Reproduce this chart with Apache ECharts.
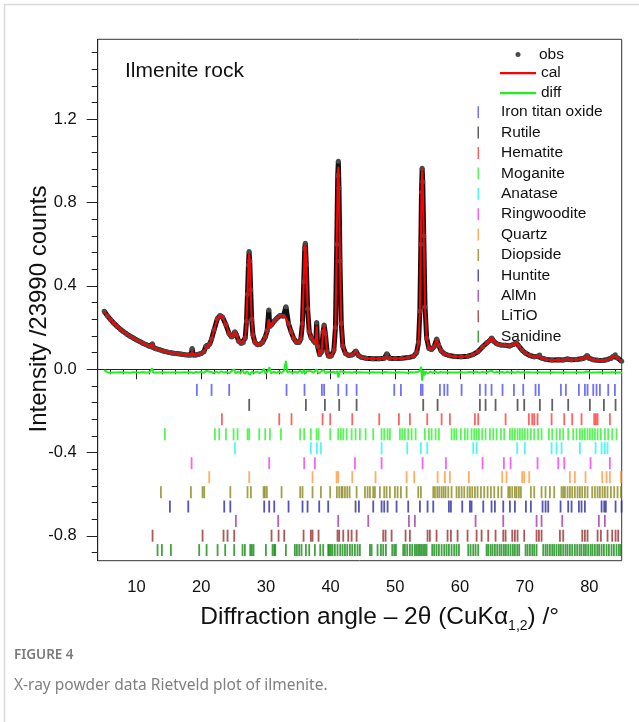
<!DOCTYPE html>
<html><head><meta charset="utf-8">
<script src="https://cdn.jsdelivr.net/npm/echarts@6/dist/echarts.min.js"></script>
<style>html,body{margin:0;padding:0;background:#fff}#c{width:639px;height:722px}</style>
</head><body><div id="c"></div>
<script>
// ---------- data ----------
const angles = [5.0,5.5,6.0,6.5,7.0,7.5,8.0,8.5,9.0,9.5,
10.0,10.5,11.0,11.5,12.0,12.3,12.45,12.6,13.0,13.5,
14.0,14.5,15.0,15.5,16.0,16.5,17.0,17.5,18.0,18.45,
18.6,18.75,19.2,19.6,20.0,20.4,20.75,21.0,21.3,21.6,
22.0,22.5,22.9,23.3,23.8,24.3,24.7,25.0,25.2,25.45,
25.8,26.2,26.5,26.8,27.0,27.15,27.3,27.4,27.5,27.65,
27.8,28.0,28.3,28.7,29.1,29.5,29.9,30.2,30.45,30.6,
30.9,31.3,31.7,32.2,32.7,33.1,33.5,33.9,34.3,34.7,
35.1,35.4,35.65,35.85,36.0,36.1,36.25,36.45,36.7,37.0,
37.4,37.7,37.85,38.0,38.3,38.6,38.85,39.0,39.2,39.45,
39.7,40.1,40.5,40.75,40.95,41.1,41.2,41.3,41.45,41.65,
41.9,42.3,42.8,43.4,43.9,44.3,44.8,45.5,46.5,47.5,
48.3,48.7,49.1,50.0,51.0,52.0,52.8,53.3,53.6,53.8,
53.95,54.05,54.15,54.25,54.4,54.6,54.85,55.2,55.6,56.0,
56.4,56.7,57.1,57.6,58.3,59.2,60.2,61.2,62.0,62.8,
63.5,64.2,64.6,64.9,65.2,65.7,66.3,67.0,67.7,68.3,
68.7,69.1,69.6,70.1,70.8,71.5,72.0,72.3,72.7,73.3,
74.2,75.2,76.0,76.6,77.2,78.0,78.8,79.3,79.65,80.0,
80.6,81.3,82.0,82.7,83.3,83.7,84.0,84.4,85.0];

const calValues = [0.278,0.257,0.238,0.221,0.206,0.192,0.180,0.169,0.159,0.150,
0.141,0.133,0.125,0.118,0.111,0.107,0.118,0.104,0.099,0.094,
0.089,0.085,0.081,0.078,0.076,0.074,0.072,0.070,0.069,0.068,
0.088,0.069,0.069,0.072,0.076,0.084,0.100,0.108,0.120,0.145,
0.190,0.243,0.258,0.250,0.215,0.172,0.155,0.165,0.180,0.165,
0.135,0.124,0.128,0.150,0.230,0.360,0.500,0.555,0.520,0.380,
0.240,0.165,0.130,0.118,0.120,0.130,0.155,0.185,0.240,0.205,
0.215,0.232,0.245,0.258,0.255,0.245,0.218,0.180,0.148,0.130,
0.128,0.145,0.220,0.420,0.580,0.598,0.500,0.290,0.180,0.152,
0.135,0.125,0.210,0.110,0.070,0.085,0.180,0.212,0.170,0.085,
0.062,0.064,0.090,0.200,0.600,0.930,0.972,0.870,0.520,0.220,
0.110,0.076,0.066,0.070,0.088,0.066,0.057,0.053,0.051,0.051,
0.053,0.060,0.053,0.052,0.053,0.056,0.062,0.080,0.130,0.280,
0.600,0.850,0.962,0.900,0.640,0.300,0.150,0.100,0.095,0.108,
0.145,0.115,0.088,0.074,0.066,0.061,0.060,0.063,0.070,0.085,
0.108,0.128,0.138,0.150,0.135,0.122,0.117,0.115,0.112,0.120,
0.127,0.112,0.092,0.078,0.066,0.060,0.062,0.068,0.053,0.047,
0.045,0.046,0.045,0.049,0.046,0.047,0.050,0.055,0.066,0.052,
0.046,0.043,0.042,0.046,0.052,0.062,0.070,0.054,0.038];

const obsValues = [0.278,0.257,0.238,0.221,0.206,0.192,0.180,0.169,0.159,0.150,
0.141,0.133,0.125,0.118,0.111,0.107,0.122,0.104,0.099,0.094,
0.089,0.085,0.081,0.078,0.076,0.074,0.072,0.070,0.069,0.068,
0.100,0.069,0.069,0.072,0.076,0.084,0.112,0.108,0.120,0.145,
0.190,0.243,0.258,0.250,0.215,0.172,0.155,0.165,0.180,0.165,
0.135,0.124,0.128,0.150,0.230,0.360,0.500,0.565,0.520,0.380,
0.240,0.165,0.130,0.118,0.120,0.130,0.155,0.185,0.285,0.205,
0.215,0.232,0.245,0.258,0.255,0.300,0.218,0.180,0.148,0.130,
0.128,0.145,0.220,0.420,0.580,0.605,0.500,0.290,0.180,0.152,
0.135,0.125,0.225,0.110,0.070,0.085,0.180,0.212,0.170,0.085,
0.062,0.064,0.090,0.200,0.600,0.930,0.998,0.870,0.520,0.220,
0.110,0.076,0.066,0.070,0.088,0.066,0.057,0.053,0.051,0.051,
0.053,0.075,0.053,0.052,0.053,0.056,0.062,0.080,0.130,0.280,
0.600,0.850,0.965,0.900,0.640,0.300,0.150,0.100,0.095,0.108,
0.145,0.115,0.088,0.074,0.066,0.061,0.060,0.063,0.070,0.085,
0.108,0.128,0.138,0.150,0.135,0.122,0.117,0.115,0.112,0.120,
0.127,0.112,0.092,0.078,0.066,0.060,0.062,0.068,0.053,0.047,
0.045,0.046,0.045,0.049,0.046,0.047,0.050,0.055,0.066,0.052,
0.046,0.043,0.042,0.046,0.052,0.062,0.070,0.054,0.038];

const diffData = [[5.0,-0.004],[5.3,-0.012],[5.6,-0.016],[6.0,-0.017],[6.5,-0.015],[7.0,-0.016],[7.5,-0.014],[8.0,-0.016],[8.5,-0.015],[9.0,-0.017],[9.5,-0.014],[10.0,-0.016],[10.5,-0.015],[11.0,-0.014],[11.5,-0.016],[12.0,-0.015],[12.3,-0.012],[12.45,0.004],[12.6,-0.017],[13.0,-0.015],[13.5,-0.016],[14.0,-0.014],[14.5,-0.016],[15.0,-0.015],[15.5,-0.016],[16.0,-0.014],[16.5,-0.016],[17.0,-0.015],[17.5,-0.014],[18.0,-0.016],[18.4,-0.014],[18.6,-0.006],[18.8,-0.018],[19.2,-0.013],[19.6,-0.016],[20.0,-0.012],[20.4,-0.017],[20.8,-0.008],[21.1,-0.016],[21.5,-0.013],[21.9,-0.018],[22.3,-0.011],[22.7,-0.017],[23.1,-0.010],[23.5,-0.016],[23.9,-0.013],[24.3,-0.019],[24.7,-0.009],[25.1,0.000],[25.3,-0.020],[25.7,-0.012],[26.1,-0.018],[26.4,-0.004],[26.7,-0.021],[27.1,-0.010],[27.35,-0.002],[27.5,-0.026],[27.8,-0.012],[28.2,-0.017],[28.6,-0.011],[29.0,-0.018],[29.4,-0.012],[29.7,0.002],[29.9,-0.020],[30.3,-0.010],[30.55,0.010],[30.8,-0.020],[31.2,-0.012],[31.6,-0.018],[32.0,-0.010],[32.4,-0.017],[32.8,-0.008],[33.1,0.040],[33.3,-0.015],[33.7,-0.010],[34.1,-0.018],[34.5,-0.011],[34.9,-0.017],[35.3,-0.006],[35.6,-0.019],[35.9,-0.004],[36.1,-0.022],[36.3,-0.009],[36.6,-0.018],[37.0,-0.010],[37.4,-0.016],[37.85,0.000],[38.1,-0.020],[38.5,-0.012],[38.9,-0.004],[39.2,-0.019],[39.6,-0.012],[40.0,-0.016],[40.4,-0.012],[40.8,-0.018],[41.0,-0.008],[41.2,-0.040],[41.4,-0.010],[41.7,-0.018],[42.1,-0.013],[42.5,-0.016],[42.9,-0.014],[43.3,-0.017],[43.7,-0.013],[44.1,-0.016],[44.5,-0.014],[45.0,-0.016],[45.5,-0.015],[46.0,-0.017],[46.5,-0.014],[47.0,-0.016],[47.5,-0.015],[48.0,-0.016],[48.5,-0.013],[48.7,-0.004],[48.9,-0.016],[49.4,-0.015],[49.9,-0.017],[50.4,-0.014],[50.9,-0.016],[51.4,-0.015],[51.9,-0.017],[52.4,-0.014],[52.9,-0.016],[53.4,-0.013],[53.8,-0.008],[54.0,0.012],[54.15,-0.055],[54.3,-0.005],[54.5,-0.030],[54.7,-0.010],[55.0,-0.020],[55.4,-0.012],[55.8,-0.017],[56.2,-0.010],[56.6,-0.018],[57.0,-0.013],[57.5,-0.016],[58.0,-0.014],[58.5,-0.016],[59.0,-0.015],[59.5,-0.016],[60.0,-0.014],[60.5,-0.016],[61.0,-0.015],[61.5,-0.013],[62.0,-0.016],[62.5,-0.012],[63.0,-0.017],[63.5,-0.013],[64.0,-0.016],[64.5,-0.011],[64.9,-0.008],[65.3,-0.017],[65.7,-0.012],[66.1,-0.016],[66.5,-0.013],[66.9,-0.017],[67.3,-0.012],[67.7,-0.016],[68.1,-0.013],[68.5,-0.017],[68.9,-0.011],[69.3,-0.016],[69.7,-0.014],[70.1,-0.016],[70.6,-0.014],[71.1,-0.016],[71.6,-0.015],[72.1,-0.013],[72.6,-0.016],[73.1,-0.015],[73.6,-0.016],[74.1,-0.014],[74.6,-0.016],[75.1,-0.015],[75.6,-0.016],[76.1,-0.014],[76.6,-0.016],[77.1,-0.015],[77.6,-0.016],[78.1,-0.014],[78.6,-0.015],[79.1,-0.016],[79.6,-0.011],[80.1,-0.017],[80.6,-0.015],[81.1,-0.016],[81.6,-0.014],[82.1,-0.016],[82.6,-0.015],[83.1,-0.016],[83.6,-0.014],[84.1,-0.016],[84.6,-0.015],[85.0,-0.015]];

const phaseNames = ['Iron titan oxide','Rutile','Hematite','Moganite','Anatase','Ringwoodite','Quartz','Diopside','Huntite','AlMn','LiTiO','Sanidine'];
const phaseColors = ['#4f4ff5','#3a3a3a','#ff3b3b','#2ef22e','#2cf2f2','#f53cf5','#ff9a3c','#8a8a1e','#2a2aa0','#9c3ca8','#9a2e2e','#138a13'];
const rowLevels = [-0.099,-0.171,-0.240,-0.312,-0.379,-0.451,-0.518,-0.590,-0.659,-0.728,-0.799,-0.868];

const ironTitanOxide = [19.33,21.6,24.33,33.19,35.97,38.65,39.0,41.18,42.47,44.02,49.84,50.87,53.96,54.22,56.9,57.57,58.08,60.25,63.08,63.96,64.88,66.58,68.34,69.78,71.68,72.2,75.6,76.37,78.38,79.31,79.72,80.6,81.11,81.63,82.92,83.95];
const rutile = [27.42,36.18,39.12,41.33,44.02,54.32,56.54,63.08,63.96,65.5,68.9,69.93,72.35,74.26,76.73,80.08,82.25,84.05];
const hematite = [23.2,32.06,33.96,38.76,39.94,43.35,47.52,50.56,52.26,54.94,57.16,58.44,62.31,62.82,67.05,70.65,71.17,71.48,71.99,74.16,76.12,77.35,78.79,80.75,81.01,81.27,83.17];
const moganite = [14.39,22.12,22.79,23.82,25.0,25.62,27.16,27.42,28.97,29.89,30.62,32.32,35.3,35.92,36.95,37.83,38.14,39.94,41.18,41.59,41.96,42.47,43.25,43.86,44.53,45.41,46.59,47.88,48.29,48.81,49.17,50.72,51.08,51.49,52.0,52.52,53.14,54.58,55.2,55.61,56.23,56.74,58.7,59.11,59.47,60.14,60.76,61.17,61.79,62.2,62.57,62.93,63.44,63.96,64.63,65.14,65.66,66.33,66.84,67.72,68.08,68.49,68.9,69.26,69.62,70.03,70.45,70.96,71.48,72.1,72.61,73.75,74.26,74.93,75.45,75.96,76.73,77.51,78.02,78.54,78.9,79.31,79.72,80.08,80.44,80.86,81.27,81.78,82.4,82.92,83.54,84.2];
const anatase = [25.21,36.95,37.88,38.5,47.88,51.85,53.96,54.94,62.05,62.57,68.85,70.03,74.16,74.93,75.7,78.54,80.96,81.89,82.4,82.81];
const ringwoodite = [18.51,30.51,35.92,37.57,43.76,47.88,54.22,57.83,63.49,66.79,67.82,71.99,75.19,76.12,80.18,83.17];
const quartz = [21.24,27.42,37.21,40.92,41.18,43.35,46.95,51.75,52.93,56.54,57.67,58.44,61.38,66.53,67.2,69.62,69.93,70.71,76.99,77.76,79.41,81.99,82.66,83.17,84.87];
const diopside = [13.77,18.41,20.21,20.47,24.5,27.16,27.68,29.64,29.84,30.15,32.42,35.3,35.66,37.21,38.5,39.94,40.97,41.33,41.69,41.85,42.22,42.58,42.94,44.02,45.31,45.72,46.08,46.59,46.85,47.62,48.29,48.66,49.17,49.94,50.36,50.87,51.75,53.55,53.96,55.87,56.13,56.49,56.8,57.16,57.47,57.77,58.19,58.7,59.47,59.84,60.25,60.66,61.17,61.54,61.9,62.31,62.72,63.24,63.75,64.27,64.78,65.3,65.91,66.43,67.46,67.72,68.08,68.49,68.75,69.11,69.42,70.96,71.48,72.61,73.23,73.9,74.57,75.7,75.96,76.22,76.63,76.99,77.35,77.76,78.18,78.54,78.9,79.31,79.72,80.44,80.85,81.27,81.63,82.04,82.4,82.81,83.33,83.84,84.36,84.87];
const huntite = [15.16,18.0,23.56,24.5,29.74,30.51,31.29,33.5,35.66,36.44,38.24,39.63,43.86,44.38,46.59,47.88,48.29,48.81,50.2,52.0,53.81,54.99,55.87,58.29,58.6,60.35,61.54,61.79,63.6,64.88,65.4,66.69,67.72,68.49,70.19,70.96,72.77,73.23,73.64,75.55,76.73,77.25,78.38,78.79,79.31,81.89,82.3,82.55,84.05,84.98];
const alMn = [25.36,31.9,41.18,45.82,52.11,53.03,62.41,66.69,71.84,72.61,75.81,81.47,82.4];
const liTiO = [12.48,20.21,23.45,24.07,25.1,30.87,31.96,32.83,35.82,36.95,37.21,38.14,41.07,41.33,41.96,42.73,43.25,44.02,48.14,48.5,49.43,51.59,52.26,54.99,55.35,56.38,58.08,58.6,59.63,61.17,62.57,63.34,64.37,65.5,66.69,67.05,68.08,68.49,68.9,69.93,71.84,72.2,72.61,75.45,75.96,78.9,79.31,79.72,81.27,81.78,82.81,83.53,84.05,84.46];
const sanidine = [13.25,13.92,15.31,19.69,20.83,22.53,23.71,25.1,26.39,26.75,27.58,27.83,28.09,30.0,31.03,31.29,31.44,33.09,34.48,34.79,35.15,35.51,36.18,36.7,37.57,38.4,38.86,39.63,39.79,40.04,40.3,40.66,41.07,41.49,41.85,42.22,42.58,42.99,43.35,43.76,44.17,44.53,46.08,46.34,47.26,47.78,48.14,48.55,49.53,49.84,50.1,51.23,51.49,51.85,52.26,52.62,53.03,53.29,53.55,53.81,54.06,54.32,54.58,54.84,55.71,56.02,56.38,56.74,57.16,57.57,57.93,58.29,58.7,59.11,59.47,59.84,61.28,61.64,62.05,62.41,62.82,64.11,64.37,64.73,65.04,65.4,65.76,66.12,66.43,66.79,67.1,67.46,67.82,68.18,68.49,68.85,69.16,70.14,70.45,70.81,71.17,71.48,71.84,72.87,73.23,73.54,73.9,74.26,74.57,74.93,75.29,75.6,75.96,76.32,76.63,76.99,77.35,77.76,78.12,78.49,78.79,79.16,79.46,79.82,80.19,80.49,80.85,81.22,81.52,81.89,82.25,82.66,83.02,83.43,83.79,84.2,84.57,84.87];
const phasePositions = [ironTitanOxide,rutile,hematite,moganite,anatase,ringwoodite,quartz,diopside,huntite,alMn,liTiO,sanidine];

const xMajorTicks = [10,20,30,40,50,60,70,80];
const xMinorTicks = [6,8,12,14,16,18,22,24,26,28,32,34,36,38,42,44,46,48,52,54,56,58,62,64,66,68,72,74,76,78,82,84];
const yMajorTicks = [-0.8,-0.4,0,0.4,0.8,1.2];
const yMinorTicks = [-0.88,-0.72,-0.64,-0.56,-0.48,-0.32,-0.24,-0.16,-0.08,0.08,0.16,0.24,0.32,0.48,0.56,0.64,0.72,0.88,0.96,1.04,1.12,1.28,1.36,1.44,1.52];

// ---------- chart ----------
const FONT = '"Liberation Sans", Arial, sans-serif';
const TXT = '#111';
const X_MIN = 4, X_MAX = 85, Y_MIN = -0.919, Y_MAX = 1.584;

const calData = angles.map((a, i) => [a, calValues[i]]);
const obsData = angles.map((a, i) => [a, obsValues[i]]);

const phaseSeries = phaseNames.map((name, i) => ({
  name, type: 'scatter', xAxisIndex: 0, yAxisIndex: 0,
  symbol: 'rect', symbolSize: [1.8, 12],
  itemStyle: { color: phaseColors[i] },
  data: phasePositions[i].map(x => [x, rowLevels[i]]),
  silent: true, z: 4
}));

const chart = echarts.init(document.getElementById('c'), null, { renderer: 'canvas' });
chart.setOption({
  animation: false,
  backgroundColor: '#fff',
  textStyle: { fontFamily: FONT },
  title: {
    text: 'Ilmenite rock', left: 125, top: 61, padding: 0,
    textStyle: { fontSize: 21, fontWeight: 'normal', color: TXT, fontFamily: FONT }
  },
  grid: { left: 97.7, top: 39.3, right: 17.3, bottom: 161.3, show: true, borderColor: '#333', borderWidth: 1, backgroundColor: 'transparent' },
  legend: [
    { data: ['obs'], left: 515.5, top: 46.5, orient: 'vertical', padding: 0, selectedMode: false,
      icon: 'circle', itemWidth: 5, itemHeight: 5,
      textStyle: { fontSize: 15.5, color: TXT, fontFamily: FONT, lineHeight: 15, padding: [0, 0, 0, 13.5] } },
    { data: ['cal', 'diff'], left: 500, top: 65.2, orient: 'vertical', padding: 0, selectedMode: false,
      icon: 'rect', itemWidth: 36, itemHeight: 2.2, itemGap: 4,
      textStyle: { fontSize: 15.5, color: TXT, fontFamily: FONT, lineHeight: 15 } },
    { data: phaseNames, left: 477.5, top: 104.2, orient: 'vertical', padding: 0, selectedMode: false,
      icon: 'rect', itemWidth: 1.5, itemHeight: 12, itemGap: 4.4,
      textStyle: { fontSize: 15.5, color: TXT, fontFamily: FONT, lineHeight: 15, padding: [0, 0, 0, 17] } }
  ],
  xAxis: [
    { type: 'value', min: X_MIN, max: X_MAX, position: 'bottom',
      axisLine: { lineStyle: { color: '#222', width: 1 } },
      axisTick: { customValues: xMajorTicks, length: 10, lineStyle: { color: '#222', width: 1 } },
      axisLabel: { customValues: xMajorTicks, fontSize: 16.5, color: TXT, margin: 18, fontFamily: FONT },
      splitLine: { show: false },
      name: '{a|Diffraction angle – 2θ (CuKα}{s|1,2}{a|) /°}',
      nameLocation: 'middle', nameGap: 42, nameMoveOverlap: false,
      nameTextStyle: { padding: [0, 0, 0, 40],
        rich: { a: { fontSize: 24.5, lineHeight: 30, color: TXT, fontFamily: FONT },
                s: { fontSize: 14, color: TXT, fontFamily: FONT, verticalAlign: 'bottom' } } } },
    { type: 'value', min: X_MIN, max: X_MAX, position: 'bottom',
      axisLine: { show: false },
      axisTick: { customValues: xMinorTicks, length: 5, lineStyle: { color: '#222', width: 1 } },
      axisLabel: { show: false }, splitLine: { show: false } }
  ],
  yAxis: [
    { type: 'value', min: Y_MIN, max: Y_MAX, position: 'left',
      axisLine: { show: true, lineStyle: { color: '#222', width: 1 } },
      axisTick: { show: true, customValues: yMajorTicks, length: 11, lineStyle: { color: '#222', width: 1 } },
      axisLabel: { customValues: yMajorTicks, fontSize: 16.5, color: TXT, margin: 21, fontFamily: FONT,
        formatter: v => Number(v).toFixed(1) },
      splitLine: { show: false },
      name: 'Intensity /23990 counts', nameLocation: 'middle', nameGap: 46, nameMoveOverlap: false,
      nameTextStyle: { fontSize: 24, color: TXT, fontFamily: FONT, padding: [0, 18, 0, 0] } },
    { type: 'value', min: Y_MIN, max: Y_MAX, position: 'left',
      axisLine: { show: false },
      axisTick: { show: true, customValues: yMinorTicks, length: 6, lineStyle: { color: '#222', width: 1 } },
      axisLabel: { show: false }, splitLine: { show: false } }
  ],
  series: [
    { name: 'obs', type: 'line', xAxisIndex: 0, yAxisIndex: 0, data: obsData,
      symbol: 'circle', symbolSize: 5, showSymbol: true, showAllSymbol: true,
      itemStyle: { color: '#4a4a4a' }, lineStyle: { color: '#111', width: 5 }, z: 2, silent: true },
    { name: 'cal', type: 'line', xAxisIndex: 0, yAxisIndex: 0, data: calData,
      symbol: 'none', itemStyle: { color: '#ff0000' }, lineStyle: { color: '#ff0000', width: 2 }, z: 3, silent: true },
    { name: 'diff', type: 'line', xAxisIndex: 0, yAxisIndex: 0, data: diffData,
      symbol: 'none', itemStyle: { color: '#22ee22' }, lineStyle: { color: '#22ee22', width: 2 }, z: 3, silent: true },
    ...phaseSeries
  ],
  graphic: [
    { type: 'rect', shape: { x: 4.5, y: 4.5, width: 700, height: 800 }, style: { fill: 'none', stroke: '#d9d9d9', lineWidth: 1.5 }, silent: true },
    { type: 'text', left: 14, top: 648, style: { text: 'FIGURE 4', font: '600 13.5px "Noto Sans"', fill: '#7a7a7a' } },
    { type: 'text', left: 14, top: 678, style: { text: 'X-ray powder data Rietveld plot of ilmenite.', font: '15.5px "Noto Sans"', fill: '#808080' } }
  ]
});
</script></body></html>
